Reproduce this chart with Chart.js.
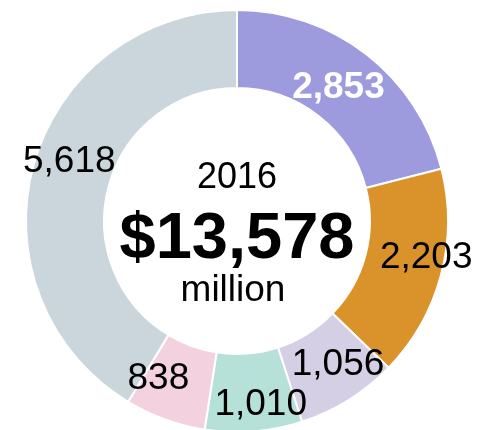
<!DOCTYPE html>
<html>
<head>
<meta charset="utf-8">
<script src="https://cdn.jsdelivr.net/npm/chart.js@4.4.1/dist/chart.umd.min.js"></script>
<style>
  html, body { margin: 0; padding: 0; background: #fff; overflow: hidden; }
  #wrap { width: 490px; height: 430px; }
</style>
</head>
<body>
<div id="wrap"><canvas id="myChart" width="490" height="430"></canvas></div>
<script>
// segments, clockwise from 12 o'clock
const segmentNames = ['A', 'B', 'C', 'D', 'E', 'F']
const segmentValues = [2853, 2203, 1056, 1010, 838, 5618]
const segmentColors = ['#9d9bdd', '#da922b', '#d5cfe5', '#b6e1d8', '#f3d1df', '#cad6dc']
const yearLabel = '2016'
const unitLabel = 'million'

// small nudges for the value labels from each arc's centre point
const labelNudge = [[-4, 2], [23, -8], [10, -3], [10, 11], [-20, -5], [-2, -14]]

const FONT = '"Liberation Sans", Arial, Helvetica, sans-serif'

function fmt(n) {
    return n.toLocaleString('en-US')
}

// value labels on the ring + total in the hole
const ringText = {
    id: 'ringText',
    afterDatasetsDraw(chart) {
        const ctx = chart.ctx
        const meta = chart.getDatasetMeta(0)
        ctx.save()
        ctx.textAlign = 'center'
        ctx.textBaseline = 'middle'
        meta.data.forEach(function (arc, i) {
            const p = arc.getCenterPoint()
            const first = i === 0
            ctx.font = (first ? 'bold ' : '') + '37px ' + FONT
            ctx.fillStyle = first ? '#ffffff' : '#000000'
            ctx.fillText(fmt(segmentValues[i]), p.x + labelNudge[i][0], p.y + labelNudge[i][1] + 1)
        })

        const cx = meta.data[0].x
        const cy = meta.data[0].y
        const total = segmentValues.reduce((a, b) => a + b, 0)
        ctx.textBaseline = 'alphabetic'
        ctx.fillStyle = '#000000'
        ctx.font = '36px ' + FONT
        ctx.fillText(yearLabel, cx, cy - 33)
        ctx.font = 'bold 65px ' + FONT
        ctx.fillText('$' + fmt(total), cx, cy + 37)
        ctx.font = '37px ' + FONT
        ctx.fillText(unitLabel, cx - 4, cy + 80)
        ctx.restore()
    }
}

let ctx = document.getElementById('myChart')
let myChart = new Chart(ctx, {
    type: 'doughnut',
    data: {
        labels: segmentNames,
        datasets: [{
            data: segmentValues,
            backgroundColor: segmentColors,
            borderColor: '#ffffff',
            borderWidth: 2,
            hoverOffset: 0,
            clip: false
        }]
    },
    options: {
        responsive: false,
        animation: false,
        radius: 211,
        cutout: '63%',
        layout: { padding: { left: 0, right: 16, top: 12, bottom: 0 } },
        plugins: {
            legend: { display: false },
            tooltip: { enabled: false }
        }
    },
    plugins: [ringText]
});
</script>
</body>
</html>
